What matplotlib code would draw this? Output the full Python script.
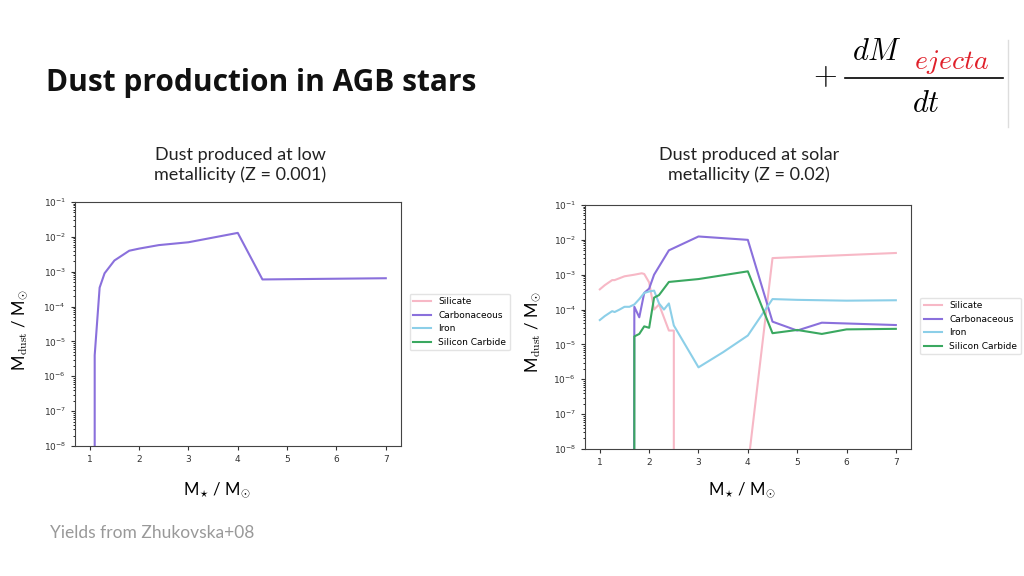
import matplotlib
matplotlib.use("Agg")
import matplotlib.pyplot as plt
from matplotlib.lines import Line2D

# ---- data ----
low_carb_x = [1.1, 1.1, 1.2, 1.3, 1.5, 1.8, 2.0, 2.4, 3.0, 4.0, 4.5, 7.0]
low_carb_y = [1e-12, 4e-6, 3.5e-4, 9e-4, 2.1e-3, 4e-3, 4.6e-3, 5.8e-3, 7e-3, 1.3e-2, 6e-4, 6.5e-4]

sil_x = [1.0, 1.1, 1.25, 1.3, 1.5, 1.7, 1.85, 1.9, 2.0, 2.1, 2.2, 2.4, 2.5, 2.5, 4.0, 4.5, 7.0]
sil_y = [3.8e-4, 5e-4, 7e-4, 7e-4, 9e-4, 1e-3, 1.1e-3, 1.05e-3, 6e-4, 1e-4, 1.4e-4, 2.5e-5, 2.5e-5, 1e-12, 3e-9, 3e-3, 4.2e-3]
carb_x = [1.69, 1.7, 1.8, 1.9, 2.0, 2.1, 2.4, 3.0, 4.0, 4.5, 5.0, 5.5, 7.0]
carb_y = [1e-12, 1.2e-4, 6e-5, 3e-4, 4e-4, 1e-3, 5e-3, 1.25e-2, 1e-2, 4.5e-5, 2.5e-5, 4.2e-5, 3.6e-5]
iron_x = [1.0, 1.1, 1.25, 1.3, 1.4, 1.5, 1.6, 1.7, 1.8, 1.9, 2.0, 2.1, 2.2, 2.3, 2.4, 2.5, 3.0, 3.5, 4.0, 4.5, 5.0, 6.0, 7.0]
iron_y = [5e-5, 6.5e-5, 9e-5, 8.5e-5, 1e-4, 1.2e-4, 1.2e-4, 1.4e-4, 2e-4, 3e-4, 3.3e-4, 3.5e-4, 1.5e-4, 1e-4, 1.5e-4, 3.5e-5, 2.2e-6, 6e-6, 1.8e-5, 2e-4, 1.9e-4, 1.8e-4, 1.85e-4]
sic_x = [1.7, 1.7, 1.8, 1.9, 2.0, 2.1, 2.2, 2.4, 3.0, 4.0, 4.5, 5.0, 5.5, 6.0, 7.0]
sic_y = [1e-12, 1.7e-5, 2e-5, 3.3e-5, 3e-5, 2.2e-4, 2.6e-4, 6.2e-4, 7.5e-4, 1.25e-3, 2.1e-5, 2.6e-5, 2e-5, 2.7e-5, 2.8e-5]

labels = ["Silicate", "Carbonaceous", "Iron", "Silicon Carbide"]
colors = ["#f7b8c6", "#8a70dc", "#8ccfe8", "#3aa860"]

plt.rcParams["mathtext.fontset"] = "cm"
fig = plt.figure(figsize=(10.24, 5.76), dpi=100)
fig.patch.set_facecolor("white")

def style(ax):
    ax.set_yscale("log")
    ax.set_ylim(1e-8, 1e-1)
    ax.set_xlim(0.7, 7.3)
    ax.set_xticks(range(1, 8))
    ax.tick_params(labelsize=6.5, length=3, color="#333333", labelcolor="#333333")
    ax.tick_params(which="minor", length=1.5)
    for s in ax.spines.values():
        s.set_color("#444444"); s.set_linewidth(0.8)

axL = fig.add_axes([0.0732, 0.2257, 0.318, 0.4236])
style(axL)
axL.plot([], [], color=colors[0], lw=1.5, label=labels[0])
axL.plot(low_carb_x, low_carb_y, color=colors[1], lw=1.5, label=labels[1])
axL.plot([], [], color=colors[2], lw=1.5, label=labels[2])
axL.plot([], [], color=colors[3], lw=1.5, label=labels[3])
axL.legend(loc="center left", bbox_to_anchor=(0.3955, 0.441), bbox_transform=fig.transFigure,
           fontsize=6.5, handlelength=2, frameon=True, edgecolor="#dddddd")

axR = fig.add_axes([0.5713, 0.2205, 0.318, 0.4236])
style(axR)
for xs, ys, c, l in [(sil_x, sil_y, colors[0], labels[0]), (carb_x, carb_y, colors[1], labels[1]),
                     (iron_x, iron_y, colors[2], labels[2]), (sic_x, sic_y, colors[3], labels[3])]:
    axR.plot(xs, ys, color=c, lw=1.5, label=l)
axR.legend(loc="center left", bbox_to_anchor=(0.8945, 0.434), bbox_transform=fig.transFigure,
           fontsize=6.5, handlelength=2, frameon=True, edgecolor="#dddddd")

fig.text(46/1024, 1-83/576, "Dust production in AGB stars", fontsize=21.5, fontweight="bold",
         family="Open Sans", va="center", color="#111111")
sub_kw = dict(fontsize=13, family="Lato", ha="center", va="center", color="#222222", linespacing=1.3)
fig.text(240/1024, 1-165/576, "Dust produced at low\nmetallicity (Z = 0.001)", **sub_kw)
fig.text(749/1024, 1-165/576, "Dust produced at solar\nmetallicity (Z = 0.02)", **sub_kw)
ylab = r"M$_{\mathrm{dust}}$ / M$_{\odot}$"
fig.text(20/1024, 1-330/576, ylab, rotation=90, fontsize=12, ha="center", va="center", family="Lato")
fig.text(533/1024, 1-332/576, ylab, rotation=90, fontsize=12, ha="center", va="center", family="Lato")
xlab = r"M$_{\star}$ / M$_{\odot}$"
fig.text(217/1024, 1-490/576, xlab, fontsize=12, ha="center", va="center", family="Lato")
fig.text(742/1024, 1-490/576, xlab, fontsize=12, ha="center", va="center", family="Lato")
fig.text(50/1024, 1-533/576, "Yields from Zhukovska+08", fontsize=12.5, color="#999999",
         family="Lato", va="center")

# formula
fig.text(825/1024, 1-76/576, r"$+$", fontsize=22, ha="center", va="center")
fig.text(877/1024, 1-52/576, r"$dM$", fontsize=22, ha="center", va="center")
fig.text(952/1024, 1-62/576, r"$ejecta$", fontsize=20, ha="center", va="center", color="#e0202a")
fig.add_artist(Line2D([845/1024, 1003/1024], [1-78/576, 1-78/576], color="black", lw=1.2))
fig.text(926/1024, 1-103/576, r"$dt$", fontsize=22, ha="center", va="center")
fig.add_artist(Line2D([1008/1024, 1008/1024], [1-40/576, 1-127/576], color="#dddddd", lw=1))

fig.savefig("out.png", dpi=100)
